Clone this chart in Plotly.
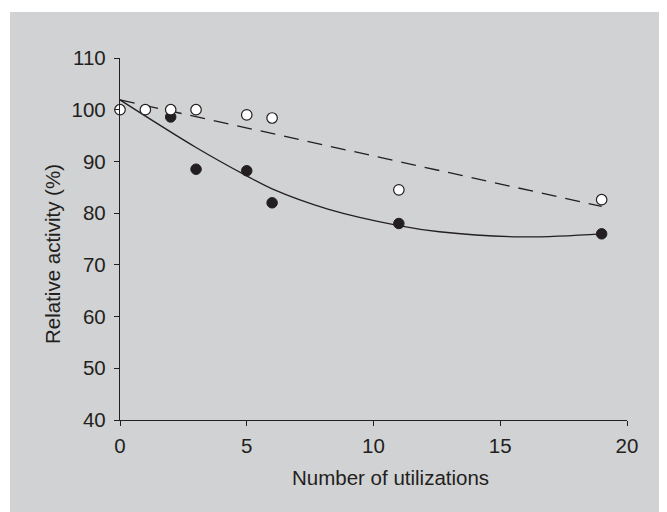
import plotly.graph_objects as go

# Data
open_x = [0, 1, 2, 3, 5, 6, 11, 19]
open_y = [100, 100, 100, 100, 99, 98.4, 84.5, 82.6]

filled_x = [2, 3, 5, 6, 11, 19]
filled_y = [98.6, 88.5, 88.2, 82.0, 78.0, 76.0]

# Trend curves
dash_x = [0, 19]
dash_y = [101.9, 81.3]

solid_x = [0, 3, 5, 6, 8.2, 11, 12.6, 15.8, 19]
solid_y = [101.9, 92.7, 87.2, 84.7, 80.8, 77.6, 76.4, 75.4, 76.0]

x_ticks = [0, 5, 10, 15, 20]
y_ticks = [40, 50, 60, 70, 80, 90, 100, 110]

INK = "#231f20"
PANEL = "#d1d2d4"
FONT = "Liberation Sans, Arial, sans-serif"
FS = 20.5

fig = go.Figure()

fig.add_trace(go.Scatter(
    x=dash_x, y=dash_y, mode="lines",
    line=dict(color=INK, width=1.3, dash="15px,9px"),
    hoverinfo="skip", showlegend=False, cliponaxis=False))

fig.add_trace(go.Scatter(
    x=solid_x, y=solid_y, mode="lines",
    line=dict(color=INK, width=1.3, shape="spline", smoothing=1.0),
    hoverinfo="skip", showlegend=False, cliponaxis=False))

fig.add_trace(go.Scatter(
    x=filled_x, y=filled_y, mode="markers",
    marker=dict(size=10.5, color=INK, line=dict(color=INK, width=1)),
    showlegend=False, cliponaxis=False))

fig.add_trace(go.Scatter(
    x=open_x, y=open_y, mode="markers",
    marker=dict(size=10.5, color="white", line=dict(color=INK, width=1.2)),
    showlegend=False, cliponaxis=False))

# Page body has an 8px margin; figure coordinates = reference pixels - 8
OFF = 8
W, H = 667 - OFF, 512 - OFF
L, T = 120 - OFF, 58 - OFF
R = W - (627 - OFF)
B = H - (420 - OFF)
pw, ph = W - L - R, H - T - B

def px_x(px):
    return (px - OFF - L) / pw

def px_y(py):
    return (H - B - (py - OFF)) / ph

fig.add_shape(type="rect", xref="paper", yref="paper", layer="below",
              x0=px_x(10), x1=px_x(700), y0=px_y(540), y1=px_y(12),
              fillcolor=PANEL, line=dict(width=0))

fig.add_annotation(text="Number of utilizations", xref="paper", yref="paper",
                   x=px_x(390), y=px_y(477),
                   showarrow=False, font=dict(size=FS, color=INK, family=FONT),
                   xanchor="center", yanchor="middle")
fig.add_annotation(text="Relative activity (%)", xref="paper", yref="paper",
                   x=px_x(53), y=px_y(254), textangle=-90,
                   showarrow=False, font=dict(size=FS, color=INK, family=FONT),
                   xanchor="center", yanchor="middle")

axis_common = dict(showgrid=False, zeroline=False, showline=True,
                   linecolor=INK, linewidth=1.3, ticks="outside", ticklen=5,
                   tickwidth=1.2, tickcolor=INK,
                   tickfont=dict(size=FS, color=INK, family=FONT))

fig.update_xaxes(range=[0, 20], tickvals=x_ticks, ticklabelstandoff=2, **axis_common)
fig.update_yaxes(range=[40, 110], tickvals=y_ticks, ticklabelstandoff=4, **axis_common)

fig.update_layout(
    width=W, height=H,
    margin=dict(l=L, r=R, t=T, b=B, pad=0),
    paper_bgcolor="white", plot_bgcolor=PANEL,
    font=dict(family=FONT, color=INK),
)

fig.write_html("out.html")
